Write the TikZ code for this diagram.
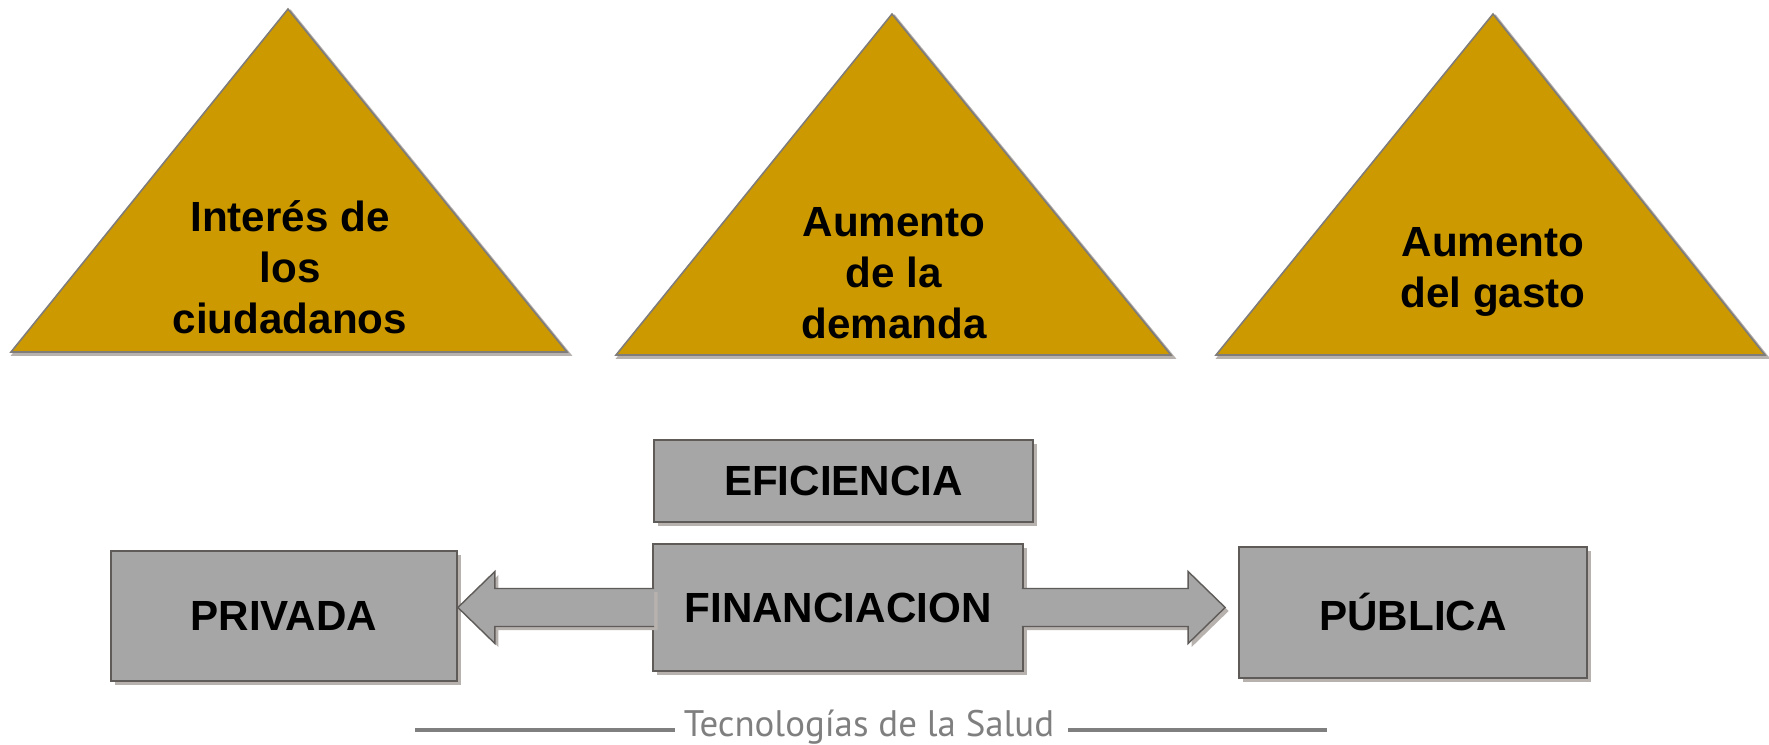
\documentclass[tikz,border=0pt]{standalone}
\usepackage{fontspec}
\setmainfont{Liberation Sans}
\newfontfamily\footfont{PT Sans}
\usepackage{xcolor}
\usetikzlibrary{positioning,calc,shadows}
\definecolor{gold}{HTML}{CC9900}
\definecolor{boxgray}{HTML}{A6A6A6}
\definecolor{edgedark}{HTML}{5F5B59}
\definecolor{shadowgray}{HTML}{B8B2AF}
\definecolor{footgray}{HTML}{7F7F7F}

\begin{document}
\begin{tikzpicture}[
  tri/.style={fill=gold, draw=edgedark!80, line width=0.9pt, line join=miter},
  trishadow/.style={draw=shadowgray, line width=1.6pt, shift={(0.05,-0.05)}},
  trilabel/.style={align=center, font=\fontsize{24}{29}\selectfont\bfseries},
  block/.style={fill=boxgray, draw=edgedark, line width=1pt, align=center,
    font=\fontsize{24}{29}\selectfont\bfseries,
    general shadow={fill=shadowgray, shadow xshift=2.5pt, shadow yshift=-2.5pt}},
  bigarrow/.style={fill=boxgray, draw=edgedark, line width=0.8pt, line join=miter,
    general shadow={fill=shadowgray, shadow xshift=2pt, shadow yshift=-2pt}},
  footline/.style={draw=footgray, line width=2.4pt}
]
  \useasboundingbox (0,0) rectangle (35.38,-14.90);

  % triangulos
  \draw[trishadow] (5.76,-0.18) -- (11.34,-7.04) -- (0.22,-7.04) -- cycle;
  \draw[tri] (5.76,-0.18) -- (11.34,-7.04) -- (0.22,-7.04) -- cycle;
  \draw[trishadow] (17.84,-0.28) -- (23.42,-7.10) -- (12.32,-7.10) -- cycle;
  \draw[tri] (17.84,-0.28) -- (23.42,-7.10) -- (12.32,-7.10) -- cycle;
  \draw[trishadow] (29.86,-0.28) -- (35.30,-7.10) -- (24.32,-7.10) -- cycle;
  \draw[tri] (29.86,-0.28) -- (35.30,-7.10) -- (24.32,-7.10) -- cycle;

  \node[trilabel] (interes) at (5.80,-5.34) {Interés de\\los\\ciudadanos};
  \node[trilabel] (demanda) at (17.88,-5.46) {Aumento\\de la\\demanda};
  \node[trilabel] (gasto) at (29.86,-5.44) {Aumento\\del gasto};

  % cajas
  \node[block, minimum width=7.58cm, minimum height=1.64cm] (eficiencia) at (16.87,-9.62) {EFICIENCIA};
  \node[block, minimum width=7.40cm, minimum height=2.54cm] (financ) at (16.76,-12.15) {FINANCIACION};
  \node[block, minimum width=6.92cm, minimum height=2.60cm] (privada) at (5.68,-12.32) {PRIVADA};
  \node[block, minimum width=6.96cm, minimum height=2.62cm] (publica) at (28.26,-12.25) {PÚBLICA};

  % flechas de bloque
  \coordinate (ltip) at (privada.east |- financ.west);
  \coordinate (rtip) at ($(publica.west |- financ.east)+(-0.26,0)$);
  \draw[bigarrow] ($(financ.west)+(0.04,0.38)$) -- ($(ltip)+(0.74,0.38)$) -- ($(ltip)+(0.74,0.72)$)
    -- (ltip) -- ($(ltip)+(0.74,-0.72)$) -- ($(ltip)+(0.74,-0.38)$) -- ($(financ.west)+(0.04,-0.38)$);
  \draw[bigarrow] ($(financ.east)+(-0.04,0.38)$) -- ($(rtip)+(-0.74,0.38)$) -- ($(rtip)+(-0.74,0.72)$)
    -- (rtip) -- ($(rtip)+(-0.74,-0.72)$) -- ($(rtip)+(-0.74,-0.38)$) -- ($(financ.east)+(-0.04,-0.38)$);

  % pie
  \node[font=\footfont\fontsize{21}{25}\selectfont, text=footgray] (pie) at (17.38,-14.54) {Tecnologías de la Salud};
  \coordinate (pieL) at (8.30,-14.60);
  \coordinate (pieLend) at (13.50,-14.60);
  \coordinate (pieRbeg) at (21.36,-14.60);
  \coordinate (pieR) at (26.54,-14.60);
  \draw[footline] (pieL) -- (pieLend);
  \draw[footline] (pieRbeg) -- (pieR);
\end{tikzpicture}
\end{document}
